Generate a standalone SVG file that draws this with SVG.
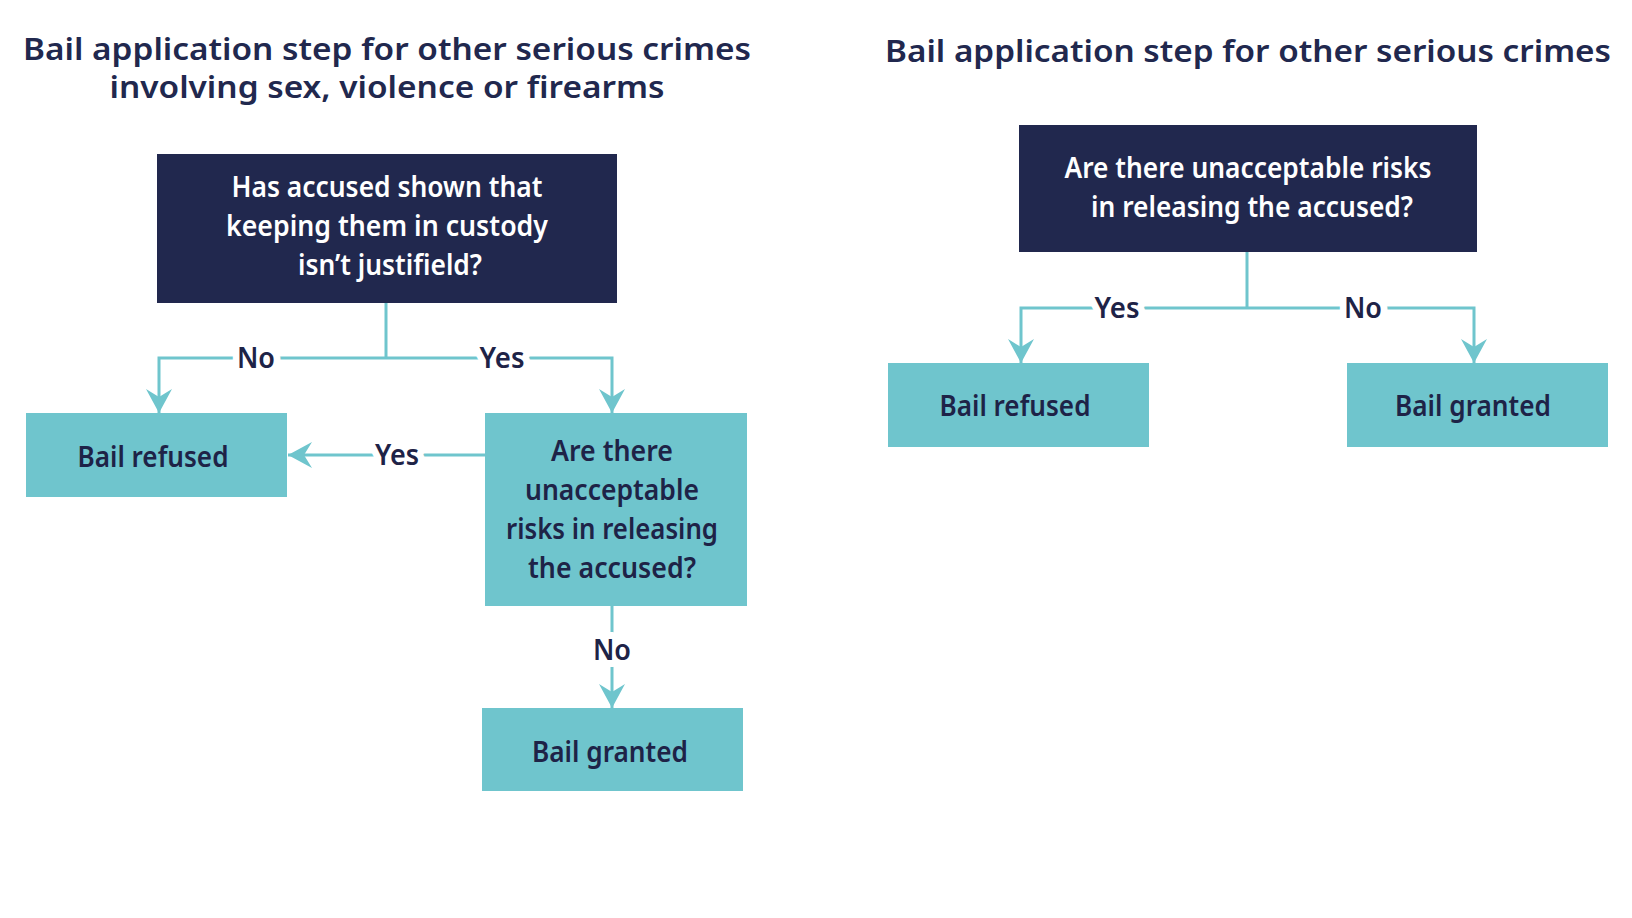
<svg xmlns="http://www.w3.org/2000/svg" width="1632" height="918" viewBox="0 0 1632 918">
<style>
.bg{fill:#ffffff}
.dark{fill:#21284e}
.teal{fill:#6fc5cd}
.t{font-family:"Noto Sans","Open Sans",sans-serif;text-anchor:middle;font-weight:600}
.title{font-size:30px;fill:#21284e}
.wt{font-size:28px;fill:#ffffff}
.nt{font-size:28px;fill:#1e2347}
.lbl{font-size:28px;fill:#1e2347;stroke:#ffffff;stroke-width:14px;stroke-linejoin:round;paint-order:stroke}
.ln{fill:none;stroke:#6fc5cd;stroke-width:3}
.arr{fill:none;stroke:#6fc5cd;stroke-width:3;marker-end:url(#ah)}
</style>
<defs>
<marker id="ah" viewBox="0 -14 24 28" refX="24" refY="0" markerWidth="24" markerHeight="28" markerUnits="userSpaceOnUse" orient="auto">
<path d="M0,-13 L24,0 L0,13 L8,0 Z" fill="#6fc5cd"/>
</marker>
</defs>
<rect class="bg" x="0" y="0" width="1632" height="918"/>

<g id="titles">
<text class="t title" x="387" y="60" textLength="728" lengthAdjust="spacingAndGlyphs">Bail application step for other serious crimes</text>
<text class="t title" x="387" y="98" textLength="555" lengthAdjust="spacingAndGlyphs">involving sex, violence or firearms</text>
<text class="t title" x="1248" y="62" textLength="726" lengthAdjust="spacingAndGlyphs">Bail application step for other serious crimes</text>
</g>

<g id="connectors">
<path class="ln" d="M386,303 V358"/>
<path class="arr" d="M386,358 H159 V413"/>
<path class="arr" d="M386,358 H612 V413"/>
<path class="arr" d="M485,455 H288"/>
<path class="arr" d="M612,606 V708"/>
<path class="ln" d="M1247,252 V308"/>
<path class="arr" d="M1247,308 H1021 V363"/>
<path class="arr" d="M1247,308 H1474 V363"/>
<text class="t lbl" x="256" y="368" textLength="38" lengthAdjust="spacingAndGlyphs">No</text>
<text class="t lbl" x="502" y="368" textLength="45" lengthAdjust="spacingAndGlyphs">Yes</text>
<text class="t lbl" x="397" y="465" textLength="44" lengthAdjust="spacingAndGlyphs">Yes</text>
<text class="t lbl" x="612" y="660" textLength="38" lengthAdjust="spacingAndGlyphs">No</text>
<text class="t lbl" x="1117" y="318" textLength="45" lengthAdjust="spacingAndGlyphs">Yes</text>
<text class="t lbl" x="1363" y="318" textLength="38" lengthAdjust="spacingAndGlyphs">No</text>
</g>

<g id="q1">
<rect class="dark" x="157" y="154" width="460" height="149"/>
<text class="t wt" x="387" y="197" textLength="311" lengthAdjust="spacingAndGlyphs">Has accused shown that</text>
<text class="t wt" x="387" y="236" textLength="322" lengthAdjust="spacingAndGlyphs">keeping them in custody</text>
<text class="t wt" x="390" y="275" textLength="184" lengthAdjust="spacingAndGlyphs">isn’t justifield?</text>
</g>

<g id="refused1">
<rect class="teal" x="26" y="413" width="261" height="84"/>
<text class="t nt" x="153" y="467" textLength="151" lengthAdjust="spacingAndGlyphs">Bail refused</text>
</g>

<g id="q2">
<rect class="teal" x="485" y="413" width="262" height="193"/>
<text class="t nt" x="612" y="461" textLength="122" lengthAdjust="spacingAndGlyphs">Are there</text>
<text class="t nt" x="612" y="500" textLength="174" lengthAdjust="spacingAndGlyphs">unacceptable</text>
<text class="t nt" x="612" y="539" textLength="212" lengthAdjust="spacingAndGlyphs">risks in releasing</text>
<text class="t nt" x="612" y="578" textLength="168" lengthAdjust="spacingAndGlyphs">the accused?</text>
</g>

<g id="granted1">
<rect class="teal" x="482" y="708" width="261" height="83"/>
<text class="t nt" x="610" y="762" textLength="156" lengthAdjust="spacingAndGlyphs">Bail granted</text>
</g>

<g id="q3">
<rect class="dark" x="1019" y="125" width="458" height="127"/>
<text class="t wt" x="1248" y="178" textLength="367" lengthAdjust="spacingAndGlyphs">Are there unacceptable risks</text>
<text class="t wt" x="1252" y="217" textLength="322" lengthAdjust="spacingAndGlyphs">in releasing the accused?</text>
</g>

<g id="refused2">
<rect class="teal" x="888" y="363" width="261" height="84"/>
<text class="t nt" x="1015" y="416" textLength="151" lengthAdjust="spacingAndGlyphs">Bail refused</text>
</g>

<g id="granted2">
<rect class="teal" x="1347" y="363" width="261" height="84"/>
<text class="t nt" x="1473" y="416" textLength="156" lengthAdjust="spacingAndGlyphs">Bail granted</text>
</g>
</svg>
